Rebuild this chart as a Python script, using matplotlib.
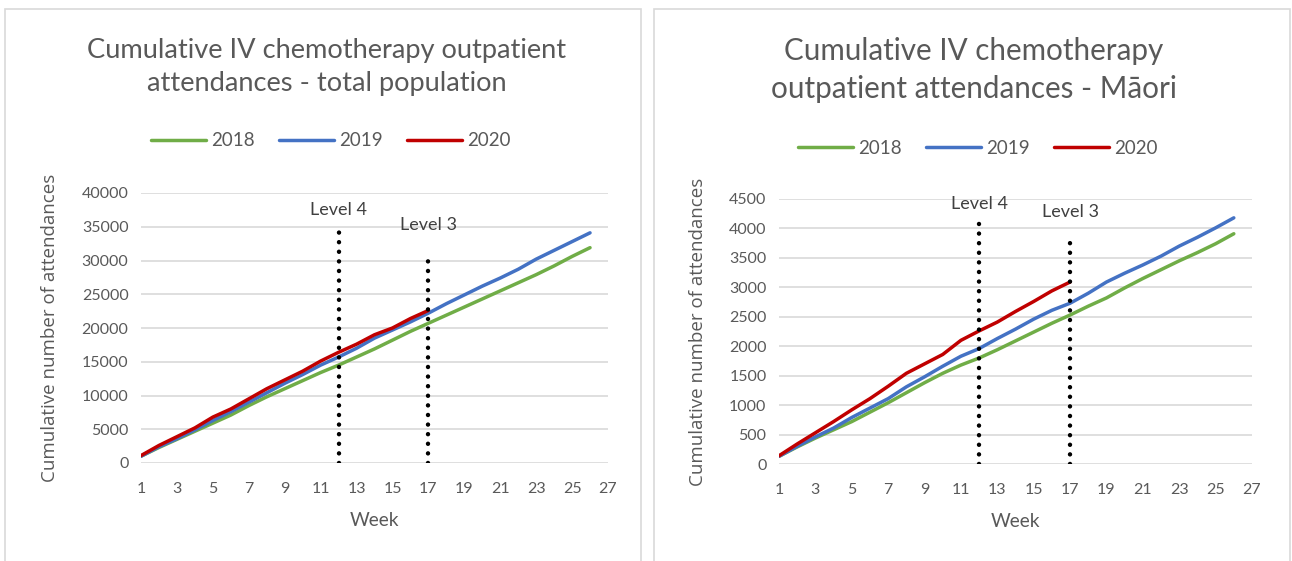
import matplotlib
matplotlib.use("Agg")
import matplotlib.pyplot as plt
from matplotlib.patches import Rectangle

# ---------------------------------------------------------------------------
# Data
# ---------------------------------------------------------------------------

weeks_full = list(range(1, 27))
weeks_2020 = list(range(1, 18))

total_2018 = [1000, 2300, 3500, 4700, 5900, 7100, 8500, 9800, 11000, 12200,
              13400, 14500, 15700, 16900, 18200, 19500, 20700, 21900, 23100,
              24300, 25500, 26700, 27900, 29200, 30600, 31900]
total_2019 = [1000, 2400, 3600, 4900, 6300, 7600, 9000, 10400, 11800, 13100,
              14500, 15700, 17000, 18500, 19700, 20900, 22200, 23600, 24900,
              26200, 27400, 28700, 30200, 31500, 32800, 34100]
total_2020 = [1100, 2600, 3900, 5200, 6800, 8000, 9500, 11000, 12300, 13600,
              15100, 16400, 17600, 19000, 20000, 21400, 22600]

maori_2018 = [130, 290, 440, 580, 720, 880, 1040, 1210, 1380, 1540, 1680,
              1800, 1940, 2090, 2240, 2390, 2530, 2680, 2820, 2990, 3150,
              3300, 3450, 3590, 3740, 3910]
maori_2019 = [130, 300, 460, 610, 790, 950, 1110, 1310, 1480, 1660, 1830,
              1960, 2130, 2290, 2460, 2610, 2730, 2900, 3090, 3240, 3380,
              3530, 3700, 3850, 4010, 4180]
maori_2020 = [140, 340, 530, 720, 920, 1110, 1320, 1540, 1700, 1860, 2100,
              2260, 2410, 2590, 2760, 2940, 3090]

# alert level markers: week and height of the dotted line
level_weeks = [12, 17]
level_names = ["Level 4", "Level 3"]
total_level_tops = [34500, 30000]
maori_level_tops = [4100, 3780]
total_label_y = [37500, 35300]
maori_label_y = [4410, 4280]

x_ticks = list(range(1, 28, 2))

# ---------------------------------------------------------------------------
# Style
# ---------------------------------------------------------------------------

plt.rcParams['font.family'] = ['Lato', 'DejaVu Sans']
TEXT = "#595959"
GRID = "#d9d9d9"
GREEN = "#70ad47"
BLUE = "#4472c4"
RED = "#c00000"

W, H = 1292, 561
fig = plt.figure(figsize=(W / 100, H / 100), dpi=100)


def px(x0, y0, x1, y1):
    # pixel box (top-left origin) -> figure fraction rect
    return [x0 / W, 1 - y1 / H, (x1 - x0) / W, (y1 - y0) / H]


# panel borders
for bx0, bx1 in [(5, 641), (654, 1290)]:
    fig.patches.append(Rectangle((bx0 / W, -0.05), (bx1 - bx0) / W, 1.05 - 9 / H,
                                 transform=fig.transFigure, fill=False,
                                 edgecolor=GRID, linewidth=1.2))


def draw_panel(rect, s18, s19, s20, ymax, ystep, tops, label_y, title,
               title_xy, title_size, legend_xy, ylabel_x):
    ax = fig.add_axes(rect)
    ax.plot(weeks_full, s18, color=GREEN, lw=2.5, label="2018", solid_capstyle="round")
    ax.plot(weeks_full, s19, color=BLUE, lw=2.5, label="2019", solid_capstyle="round")
    ax.plot(weeks_2020, s20, color=RED, lw=2.5, label="2020", solid_capstyle="round")
    for wk, top, name, ly in zip(level_weeks, tops, level_names, label_y):
        ax.plot([wk, wk], [0, top], color="black", lw=3.2,
                linestyle=(0, (0.01, 2.15)), dash_capstyle="round")
        ax.text(wk, ly, name, ha="center", va="center", fontsize=13, color="#404040")
    ax.set_xlim(1, 27)
    ax.set_ylim(0, ymax)
    ax.set_xticks(x_ticks)
    ax.set_yticks(range(0, ymax + 1, ystep))
    ax.grid(axis="y", color=GRID, lw=1.2)
    ax.set_axisbelow(True)
    for s in ax.spines.values():
        s.set_visible(False)
    ax.tick_params(length=0, labelsize=11.5, colors=TEXT, pad=9)
    ax.tick_params(axis="x", pad=14)
    ax.set_xlabel("Week", fontsize=13.8, color=TEXT, labelpad=11)
    cy = 1 - (rect[1] + rect[3] / 2)
    fig.text(ylabel_x / W, 1 - cy, "Cumulative number of attendances",
             rotation=90, ha="center", va="center", fontsize=13.5, color=TEXT,
             family="Open Sans")
    fig.text(title_xy[0] / W, 1 - title_xy[1] / H, title, ha="center", va="center",
             fontsize=title_size, color=TEXT, linespacing=1.4)
    handles, labels = ax.get_legend_handles_labels()
    fig.legend(handles, labels, loc="center", ncol=3, frameon=False,
               bbox_to_anchor=(legend_xy[0] / W, 1 - legend_xy[1] / H),
               fontsize=13.5, labelcolor=TEXT, handlelength=2.9,
               handletextpad=0.3, columnspacing=1.3)
    return ax


draw_panel(px(141, 193, 608, 463), total_2018, total_2019, total_2020,
           40000, 5000, total_level_tops, total_label_y,
           "Cumulative IV chemotherapy outpatient\nattendances - total population",
           (327, 67), 19.6, (331, 141), 50)

draw_panel(px(779, 199, 1252, 464), maori_2018, maori_2019, maori_2020,
           4500, 500, maori_level_tops, maori_label_y,
           "Cumulative IV chemotherapy\noutpatient attendances - M\u0101ori",
           (974, 70), 21.3, (978, 148), 698)

fig.savefig("out.png", dpi=100)
